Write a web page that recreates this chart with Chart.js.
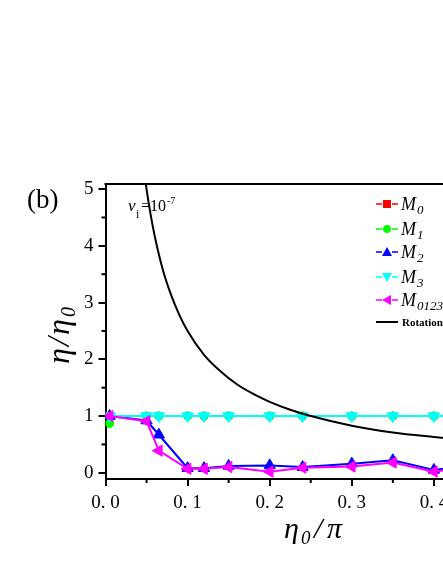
<!DOCTYPE html>
<html>
<head>
<meta charset="utf-8">
<script src="https://cdn.jsdelivr.net/npm/chart.js@4/dist/chart.umd.min.js"></script>
<style>
html,body{margin:0;padding:0;background:#fff;overflow:hidden;}
#wrap{position:absolute;left:0;top:0;width:560px;height:573px;}
</style>
</head>
<body>
<div id="wrap"><canvas id="c"></canvas></div>
<script>
// ---- data ----
const etaX   = [0.005, 0.05, 0.065, 0.1, 0.12, 0.15, 0.2, 0.24, 0.3, 0.35, 0.4, 0.45, 0.5];
const M0     = [1, 1, 1, 1, 1, 1, 1, 1, 1, 1, 1, 1, 1];
const M1     = [0.87, 1, 1, 1, 1, 1, 1, 1, 1, 1, 1, 1, 1];
const M2     = [1.0, 0.92, 0.67, 0.08, 0.08, 0.12, 0.13, 0.10, 0.16, 0.22, 0.05, 0.14, 0.10];
const M3     = [1, 1, 1, 1, 1, 1, 1, 1, 1, 1, 1, 1, 1];
const M0123  = [1.0, 0.91, 0.39, 0.07, 0.07, 0.10, 0.02, 0.09, 0.11, 0.18, 0.02, 0.12, 0.10];
const rotX   = [0.045, 0.05, 0.055, 0.06, 0.07, 0.08, 0.09, 0.1, 0.12, 0.14, 0.16, 0.18, 0.2, 0.225, 0.25, 0.3, 0.35, 0.4, 0.45, 0.5];
const rotY   = [5.56, 5.0, 4.55, 4.17, 3.57, 3.13, 2.78, 2.5, 2.08, 1.79, 1.56, 1.39, 1.25, 1.11, 1.0, 0.83, 0.71, 0.63, 0.56, 0.5];
const xTicks = [0, 0.1, 0.2, 0.3, 0.4, 0.5];
const xMinor = [0.05, 0.15, 0.25, 0.35, 0.45];
const yTicks = [0, 1, 2, 3, 4, 5];
const yMinor = [0.5, 1.5, 2.5, 3.5, 4.5];

const SERIF = '"Liberation Serif", "DejaVu Serif", serif';
const pts = (xs, ys) => xs.map((x, i) => ({x: x, y: ys[i]}));

function mk(label, data, color, style, radius, rot, order) {
  return {label, data: pts(etaX, data), borderColor: color, backgroundColor: color,
    pointStyle: style, pointRadius: radius, pointRotation: rot, borderWidth: 2,
    pointBorderWidth: 1, tension: 0, order: order};
}

const textPlugin = {
  id: 'texts',
  afterDraw(chart) {
    const ctx = chart.ctx, ca = chart.chartArea;
    const xs = chart.scales.x, ys = chart.scales.y;
    ctx.save();
    // top frame line
    ctx.strokeStyle = '#000'; ctx.lineWidth = 2;
    ctx.beginPath(); ctx.moveTo(ca.left - 1, ca.top); ctx.lineTo(ca.right, ca.top); ctx.stroke();
    // minor ticks
    ctx.lineWidth = 2;
    yMinor.forEach(v => { const y = ys.getPixelForValue(v);
      ctx.beginPath(); ctx.moveTo(ca.left - 4, y); ctx.lineTo(ca.left, y); ctx.stroke(); });
    xMinor.forEach(v => { const x = xs.getPixelForValue(v);
      ctx.beginPath(); ctx.moveTo(x, ca.bottom); ctx.lineTo(x, ca.bottom + 4); ctx.stroke(); });

    ctx.fillStyle = '#000';
    ctx.textBaseline = 'alphabetic';
    ctx.textAlign = 'left';
    // (b)
    ctx.font = '27px ' + SERIF;
    ctx.fillText('(b)', 27, 208);
    // v_i = 10^-7
    ctx.font = 'italic 17px ' + SERIF; ctx.fillText('v', 128, 211);
    ctx.font = '12px ' + SERIF; ctx.fillText('i', 136, 218);
    ctx.font = '16px ' + SERIF; ctx.fillText('=10', 141, 211);
    ctx.font = '10px ' + SERIF; ctx.fillText('-7', 167, 204);

    // x title  η0/π
    ctx.font = 'italic 30px ' + SERIF;
    let x0 = 284;
    ctx.fillText('η', x0, 538);
    ctx.font = 'italic 19px ' + SERIF; ctx.fillText('0', x0 + 17, 544);
    ctx.font = 'italic 30px ' + SERIF; ctx.fillText('/', x0 + 30, 538);
    ctx.fillText('π', x0 + 43, 538);

    // y title  η/η0 rotated
    ctx.save();
    ctx.translate(69, 364);
    ctx.rotate(-Math.PI / 2);
    ctx.font = 'italic 32px ' + SERIF;
    ctx.fillText('η', 0, 0);
    ctx.fillText('/', 18, 0);
    ctx.fillText('η', 29, 0);
    ctx.font = 'italic 20px ' + SERIF; ctx.fillText('0', 47, 6);
    ctx.restore();

    // legend
    const rows = [
      {c: '#ff0000', s: 'rect', t: '0', y: 204},
      {c: '#00ff00', s: 'circle', t: '1', y: 229},
      {c: '#0000ff', s: 'triUp', t: '2', y: 252},
      {c: '#00ffff', s: 'triDown', t: '3', y: 277},
      {c: '#ff00ff', s: 'triLeft', t: '0123', y: 300}
    ];
    rows.forEach(r => {
      ctx.strokeStyle = r.c; ctx.fillStyle = r.c; ctx.lineWidth = 1.5;
      ctx.beginPath(); ctx.moveTo(376, r.y); ctx.lineTo(382, r.y);
      ctx.moveTo(392, r.y); ctx.lineTo(398, r.y); ctx.stroke();
      const mx = 387, my = r.y;
      ctx.beginPath();
      if (r.s === 'rect') { ctx.rect(mx - 4, my - 4, 8, 8); }
      else if (r.s === 'circle') { ctx.arc(mx, my, 4, 0, Math.PI * 2); }
      else if (r.s === 'triUp') { ctx.moveTo(mx, my - 5); ctx.lineTo(mx + 5, my + 4); ctx.lineTo(mx - 5, my + 4); }
      else if (r.s === 'triDown') { ctx.moveTo(mx, my + 5); ctx.lineTo(mx + 5, my - 4); ctx.lineTo(mx - 5, my - 4); }
      else { ctx.moveTo(mx - 5, my); ctx.lineTo(mx + 4, my - 5); ctx.lineTo(mx + 4, my + 5); }
      ctx.closePath(); ctx.fill();
      ctx.fillStyle = '#000';
      ctx.font = 'italic 18px ' + SERIF; ctx.fillText('M', 401, r.y + 6);
      ctx.font = 'italic 13px ' + SERIF; ctx.fillText(r.t, 417, r.y + 10);
    });
    ctx.strokeStyle = '#000'; ctx.lineWidth = 2;
    ctx.beginPath(); ctx.moveTo(376, 322); ctx.lineTo(398, 322); ctx.stroke();
    ctx.fillStyle = '#000'; ctx.font = 'bold 11px ' + SERIF;
    ctx.fillText('Rotation', 402, 326);
    ctx.restore();
  }
};

const dsM1 = mk('M1', M1, '#00ff00', 'circle', 4.2, 0, 4);
dsM1.segment = {borderColor: c => c.p0DataIndex === 0 ? 'rgba(0,0,0,0)' : undefined};

new Chart(document.getElementById('c'), {
  type: 'line',
  data: {
    datasets: [
      {label: 'Rotation', data: pts(rotX, rotY), borderColor: '#000', backgroundColor: '#000',
        borderWidth: 2, pointRadius: 0, cubicInterpolationMode: 'monotone', order: 0},
      mk('M0123', M0123, '#ff00ff', 'triangle', 6.5, -90, 1),
      mk('M3', M3, '#00ffff', 'triangle', 6.5, 180, 2),
      mk('M2', M2, '#0000ff', 'triangle', 6.5, 0, 3),
      dsM1,
      mk('M0', M0, '#ff0000', 'rect', 4.2, 0, 5)
    ]
  },
  options: {
    responsive: true, maintainAspectRatio: false, animation: false,
    layout: {padding: {top: 184, left: 0, right: 44, bottom: 0}},
    plugins: {legend: {display: false}, tooltip: {enabled: false}},
    scales: {
      x: {
        type: 'linear', min: 0, max: 0.5,
        afterBuildTicks: s => { s.ticks = xTicks.map(v => ({value: v})); },
        afterFit: s => { s.height = 94; },
        border: {display: true, color: '#000', width: 2},
        grid: {drawOnChartArea: false, drawTicks: true, tickLength: 7, color: '#000', lineWidth: 2},
        ticks: {color: '#000', padding: 6, maxRotation: 0, font: {family: SERIF, size: 19},
          callback: v => v.toFixed(1).replace('.', '. ')}
      },
      y: {
        type: 'linear', min: -0.11, max: 5.09,
        afterBuildTicks: s => { s.ticks = yTicks.map(v => ({value: v})); },
        afterFit: s => { s.width = 105.5; },
        border: {display: true, color: '#000', width: 2},
        grid: {drawOnChartArea: false, drawTicks: true, tickLength: 7, color: '#000', lineWidth: 2},
        ticks: {color: '#000', padding: 5, font: {family: SERIF, size: 19},
          callback: v => String(v)}
      }
    }
  },
  plugins: [textPlugin]
});
</script>
</body>
</html>
